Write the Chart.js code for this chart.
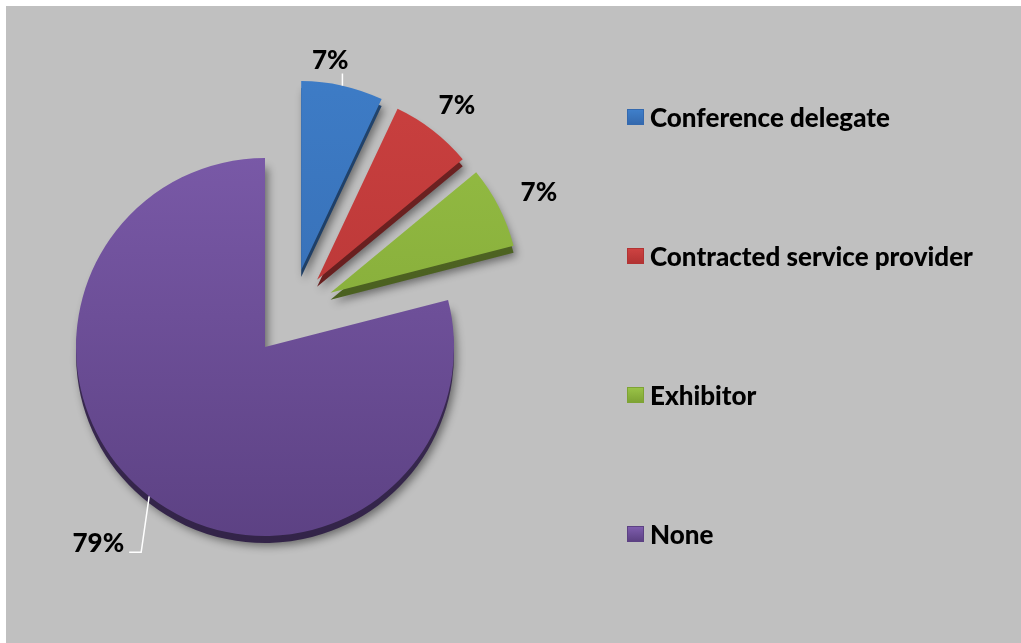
<!DOCTYPE html>
<html>
<head>
<meta charset="utf-8">
<script src="https://cdn.jsdelivr.net/npm/chart.js@4.4.0/dist/chart.umd.min.js"></script>
<style>
  html, body { margin: 0; padding: 0; background: #fff; }
  #frame { position: absolute; left: 6px; top: 6px; width: 1015px; height: 637px; background: #c0c0c0; overflow: hidden; }
  #frame canvas { position: absolute; left: 0; top: 0; }
  #legend { position: absolute; left: 621px; top: 0; margin: 0; padding: 0; list-style: none;
            font: 900 26px Lato, sans-serif; color: #000; }
  #legend li { position: absolute; left: 0; white-space: nowrap; display: flex; align-items: center; height: 30px; }
  #legend .sw { width: 15px; height: 14px; margin-right: 6px; box-sizing: content-box; }
</style>
</head>
<body>
<div id="frame">
  <canvas id="roles" width="1015" height="637"></canvas>
  <ul id="legend"></ul>
</div>
<script>
const roleLabels = ['Conference delegate', 'Contracted service provider', 'Exhibitor', 'None'];
const rolePercent = [7, 7, 7, 79];

// top face colours (light, dark) per slice
const faceLight = ['#3f7fca', '#cd4241', '#99c247', '#7e5dad'];
const faceDark = ['#3469ae', '#b23333', '#7ea334', '#5c4183'];

// direction each slice is pulled out: halfway between its own middle
// and the middle of the whole exploded group
function explodeShift(arcs, i, opts) {
  const d = opts.explode[i] || 0;
  if (!d) return { x: 0, y: 0 };
  const pulled = arcs.filter((a, k) => opts.explode[k]);
  const groupMid = (pulled[0].startAngle + pulled[pulled.length - 1].endAngle) / 2;
  const mid = (arcs[i].startAngle + arcs[i].endAngle) / 2;
  const a = groupMid + opts.spread * (mid - groupMid);
  return { x: Math.cos(a) * d, y: Math.sin(a) * d };
}

// pull the slices apart, draw a thick base and a soft shadow
const explodedPie = {
  id: 'explodedPie',
  beforeDatasetDraw(chart, args, opts) {
    const ctx = chart.ctx;
    const arcs = args.meta.data;
    arcs.forEach((arc, i) => {
      const s = explodeShift(arcs, i, opts);
      ctx.save();
      ctx.translate(s.x, s.y + opts.depth);
      ctx.shadowColor = 'rgba(0,0,0,0.45)';
      ctx.shadowBlur = 9;
      ctx.shadowOffsetX = 3;
      ctx.shadowOffsetY = 3;
      ctx.filter = 'brightness(0.55)';
      arc.draw(ctx);
      ctx.restore();
    });
    arcs.forEach((arc, i) => {
      const s = explodeShift(arcs, i, opts);
      ctx.save();
      ctx.translate(s.x, s.y);
      arc.draw(ctx);
      ctx.restore();
    });
    return false;
  }
};

// percentage labels with white leader lines
const pctLabels = {
  id: 'pctLabels',
  afterDatasetsDraw(chart, args, opts) {
    const ctx = chart.ctx;
    const arcs = chart.getDatasetMeta(0).data;
    const exOpts = chart.options.plugins.explodedPie;
    ctx.save();
    ctx.font = opts.font;
    ctx.textAlign = 'center';
    ctx.textBaseline = 'middle';
    arcs.forEach((arc, i) => {
      const mid = (arc.startAngle + arc.endAngle) / 2;
      const dx = Math.cos(mid), dy = Math.sin(mid);
      const s = explodeShift(arcs, i, exOpts);
      const px = arc.x + s.x + dx * arc.outerRadius;
      const py = arc.y + s.y + dy * arc.outerRadius;
      const text = rolePercent[i] + '%';
      const w = ctx.measureText(text).width;
      const h = opts.textHeight;
      let lx, ly;
      ctx.strokeStyle = '#fff';
      ctx.lineWidth = 1.5;
      if (opts.leader[i] && Math.abs(dy) > 0.9) {
        // short vertical leader, label sitting on top
        const dist = Math.abs(dy) * h / 2 + opts.gap[i];
        lx = px - w / 3;
        ly = py + dy * dist;
        ctx.beginPath();
        ctx.moveTo(px, py);
        ctx.lineTo(px, ly + h / 2 + 3);
        ctx.stroke();
      } else if (opts.leader[i]) {
        // bent leader ending beside the label
        const side = dx < 0 ? -1 : 1;
        const elbowX = px + side * 8;
        const by = py + opts.gap[i] + 9;
        lx = elbowX + side * (17 + w / 2);
        ly = by - 9;
        ctx.beginPath();
        ctx.moveTo(px, py);
        ctx.lineTo(elbowX, by);
        ctx.lineTo(elbowX + side * 12, by);
        ctx.stroke();
      } else {
        const dist = Math.abs(dx) * w / 2 + Math.abs(dy) * h / 2 + opts.gap[i];
        lx = px + dx * dist;
        ly = py + dy * dist + opts.drop;
      }
      ctx.fillStyle = '#000';
      ctx.fillText(text, lx, ly);
    });
    ctx.restore();
  }
};

function faceGradient(c) {
  const chart = c.chart;
  const i = c.dataIndex;
  const g = chart.ctx.createLinearGradient(0, 80, 0, 540);
  g.addColorStop(0, faceLight[i]);
  g.addColorStop(1, faceDark[i]);
  return g;
}

const ctx_roles = document.getElementById('roles').getContext('2d');
const rolesChart = new Chart(ctx_roles, {
    type: 'pie',
    data: {
        labels: roleLabels,
        datasets: [{
            data: rolePercent,
            backgroundColor: faceGradient,
            borderWidth: 0
        }]
    },
    plugins: [explodedPie, pctLabels],
    options: {
        responsive: false,
        animation: false,
        radius: 189,
        layout: {
            padding: { left: 9, right: 506, top: 91, bottom: 46 }
        },
        plugins: {
            legend: { display: false },
            tooltip: { enabled: false },
            explodedPie: { explode: [85, 85, 85, 0], spread: 0.5, depth: 7 },
            pctLabels: {
                font: '900 26px Lato, sans-serif',
                textHeight: 20,
                gap: [16, 20, 24, 47],
                drop: 6,
                leader: [true, false, false, true]
            }
        }
    }
});

// legend on the right, items spread down the frame
const legendEl = document.getElementById('legend');
roleLabels.forEach((name, i) => {
    const li = document.createElement('li');
    li.style.top = (96 + i * 139) + 'px';
    const sw = document.createElement('span');
    sw.className = 'sw';
    sw.style.background = 'linear-gradient(to bottom, ' + faceLight[i] + ', ' + faceDark[i] + ')';
    sw.style.border = '1px solid ' + faceDark[i];
    li.appendChild(sw);
    li.appendChild(document.createTextNode(name));
    legendEl.appendChild(li);
});
</script>
</body>
</html>
